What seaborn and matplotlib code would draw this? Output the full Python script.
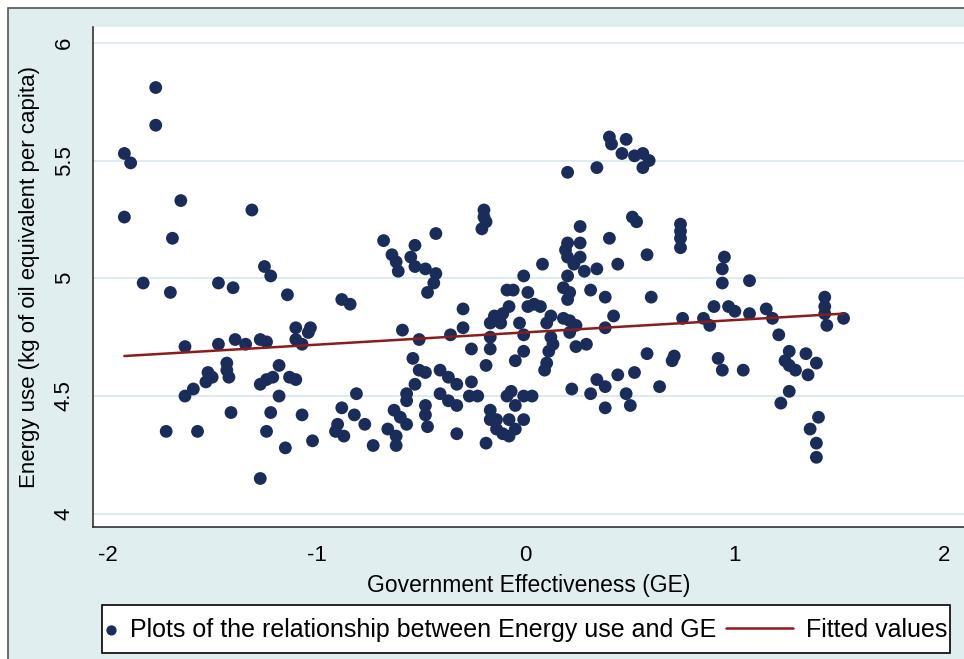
import numpy as np
import pandas as pd
import matplotlib.pyplot as plt
import seaborn as sns
from matplotlib.patches import Rectangle

# --- datos ---
ge = [-1.77, -1.77, -1.92, -1.89, -1.65, -1.92, -1.31, -1.69, -1.25, -1.22,
      -1.83, -1.47, -1.40, -1.70, -1.14, -1.10, -1.04, -1.10, -1.07, -1.63,
      -1.47, -1.39, -1.34, -1.27, -1.24, -1.43, -1.43, -1.42, -1.52, -1.50,
      -1.53, -1.59, -1.63, -1.18, -1.21, -1.24, -1.27, -1.13, -1.10, -1.18,
      -1.41, -1.22, -1.07, -1.72, -1.57, -1.24, -1.02, -1.15, -1.27,
      -0.20, -0.20, -0.19, -0.21, -0.68, -0.43, -0.53, -0.64, -0.62, -0.61,
      -0.55, -0.53, -0.48, -0.43, -0.44, -0.47, -0.88, -0.84, -0.30, -0.01,
      -0.09, -0.06, 0.01, -0.08, 0.01, -0.15, -0.11, -0.03, -0.17, -0.30,
      -0.59, -1.03, -0.51, -0.36, -0.12, -0.17, -0.17, -0.26, -0.01, -0.05,
      -0.19, -0.54, -0.51, -0.48, -0.41, -0.37, -0.33, -0.41, -0.37, -0.33,
      -0.26, -0.27, -0.23, -0.53, -0.57, -0.57, -0.63, -0.60, -0.57, -0.48,
      -0.48, -0.47, -0.81, -0.88, -0.82, -0.77, -0.90, -0.91, -0.87, -0.66,
      -0.62, -0.62, -0.73, -0.33, -0.19, -0.17, -0.14, -0.09, -0.07, -0.05,
      -0.08, -0.05, -0.11, -0.08, -0.14, -0.17, -0.01, -0.01,
      0.40, 0.41, 0.48, 0.46, 0.52, 0.56, 0.59, 0.56, 0.20, 0.34,
      0.51, 0.53, 0.74, 0.74, 0.74, 0.74, 0.26, 0.40, 0.20, 0.26,
      0.19, 0.20, 0.26, 0.23, 0.28, 0.34, 0.44, 0.58, 0.08, 0.20,
      0.18, 0.21, 0.04, 0.31, 0.38, 0.60, 0.95, 0.94, 0.94, 0.90,
      0.97, 0.07, 0.20, 0.12, 0.10, 0.18, 0.21, 0.24, 0.21, 0.42,
      0.38, -0.01, 0.12, 0.13, 0.11, 0.10, 0.09, 0.24, 0.29, 0.58,
      0.71, 0.70, 0.92, 0.94, 0.44, 0.52, 0.34, 0.38, 0.31, 0.22,
      0.48, 0.50, 0.38, 0.64, 0.03, 0.75, 0.85, 0.88, 1.00, 1.07,
      1.07, 1.15, 1.18, 1.43, 1.43, 1.43, 1.44, 1.52, 1.21, 1.26,
      1.24, 1.26, 1.29, 1.34, 1.39, 1.35, 1.04, 1.26, 1.22, 1.40,
      1.36, 1.39, 1.39]

energy = [5.81, 5.65, 5.53, 5.49, 5.33, 5.26, 5.29, 5.17, 5.05, 5.01,
          4.98, 4.98, 4.96, 4.94, 4.93, 4.79, 4.77, 4.74, 4.72, 4.71,
          4.72, 4.74, 4.72, 4.74, 4.73, 4.64, 4.61, 4.58, 4.60, 4.58,
          4.56, 4.53, 4.50, 4.63, 4.58, 4.57, 4.55, 4.58, 4.57, 4.50,
          4.43, 4.43, 4.42, 4.35, 4.35, 4.35, 4.31, 4.28, 4.15,
          5.29, 5.26, 5.24, 5.21, 5.16, 5.19, 5.14, 5.10, 5.07, 5.03,
          5.09, 5.05, 5.04, 5.02, 4.98, 4.94, 4.91, 4.89, 4.87, 5.01,
          4.95, 4.95, 4.94, 4.88, 4.88, 4.84, 4.85, 4.81, 4.81, 4.79,
          4.78, 4.79, 4.74, 4.76, 4.81, 4.75, 4.70, 4.70, 4.69, 4.65,
          4.63, 4.66, 4.61, 4.60, 4.61, 4.58, 4.55, 4.51, 4.48, 4.46,
          4.56, 4.50, 4.50, 4.55, 4.51, 4.48, 4.44, 4.41, 4.38, 4.46,
          4.42, 4.37, 4.51, 4.45, 4.42, 4.38, 4.38, 4.35, 4.33, 4.36,
          4.33, 4.29, 4.29, 4.34, 4.30, 4.44, 4.40, 4.50, 4.52, 4.46,
          4.40, 4.36, 4.34, 4.33, 4.36, 4.40, 4.50, 4.40,
          5.60, 5.57, 5.59, 5.53, 5.52, 5.53, 5.50, 5.47, 5.45, 5.47,
          5.26, 5.24, 5.23, 5.20, 5.17, 5.13, 5.22, 5.17, 5.15, 5.15,
          5.12, 5.09, 5.09, 5.06, 5.03, 5.04, 5.06, 5.10, 5.06, 5.01,
          4.96, 4.94, 4.89, 4.95, 4.92, 4.92, 5.09, 5.04, 4.98, 4.88,
          4.88, 4.88, 4.91, 4.84, 4.81, 4.83, 4.82, 4.80, 4.77, 4.84,
          4.79, 4.76, 4.75, 4.72, 4.69, 4.64, 4.61, 4.71, 4.72, 4.68,
          4.67, 4.65, 4.66, 4.61, 4.59, 4.60, 4.57, 4.54, 4.51, 4.53,
          4.51, 4.46, 4.45, 4.54, 4.50, 4.83, 4.83, 4.80, 4.86, 4.99,
          4.85, 4.87, 4.83, 4.92, 4.88, 4.85, 4.80, 4.83, 4.76, 4.69,
          4.65, 4.63, 4.61, 4.68, 4.64, 4.59, 4.61, 4.52, 4.47, 4.41,
          4.36, 4.30, 4.24]

# recta ajustada (extremos)
fit_x = [-1.92, 1.52]
fit_y = [4.67, 4.85]

df = pd.DataFrame({'GE': ge, 'Energy': energy})
fit_df = pd.DataFrame({'GE': fit_x, 'Fitted': fit_y})

# --- estilo ---
sns.set_style('white')
plt.rcParams['font.family'] = ['Liberation Sans', 'DejaVu Sans']
plt.rcParams['text.color'] = 'black'
plt.rcParams['axes.labelcolor'] = 'black'

bg = '#e1eef0'
navy = '#1a2d5a'
red = '#8c1c1c'

fig = plt.figure(figsize=(9.64, 6.59), dpi=100)
fig.patch.set_facecolor('white')
# marco exterior (estilo Stata)
fig.patches.append(Rectangle((8 / 964, -10 / 659), 980 / 964, 661 / 659,
                             transform=fig.transFigure, facecolor=bg,
                             edgecolor='#555555', linewidth=1.2, zorder=-10))

ax = fig.add_axes([93 / 964, 1 - 527 / 659, 871 / 964, 500 / 659])
ax.set_facecolor('white')

sns.scatterplot(data=df, x='GE', y='Energy', ax=ax, color=navy, s=85,
                edgecolor='none', zorder=3,
                label='Plots of the relationship between Energy use and GE')
sns.lineplot(data=fit_df, x='GE', y='Fitted', ax=ax, color=red, linewidth=1.8,
             zorder=4, label='Fitted values')

ax.set_xlim(-2.07, 2.096)
ax.set_ylim(3.944, 6.067)
ax.set_xticks([-2, -1, 0, 1, 2])
ax.set_xticklabels(['-2', '-1', '0', '1', '2'])
ax.set_yticks([4, 4.5, 5, 5.5, 6])
ax.set_yticklabels(['4', '4.5', '5', '5.5', '6'], rotation=90, va='center')

ax.yaxis.grid(True, color='#d8e9ed', linewidth=1.3)
ax.xaxis.grid(False)
ax.set_axisbelow(True)

for side in ['top', 'right']:
    ax.spines[side].set_visible(False)
for side in ['left', 'bottom']:
    ax.spines[side].set_color('#222222')
    ax.spines[side].set_linewidth(1.1)

ax.tick_params(axis='both', direction='out', length=7, width=1.0,
               color='#222222', labelsize=16, labelcolor='black', pad=6)

ax.set_xlabel('Government Effectiveness (GE)', fontsize=16.5, labelpad=6)
ax.set_ylabel('Energy use (kg of oil equivalent per capita)', fontsize=16,
              labelpad=10)

# leyenda abajo: caja + dos entradas
handles, labels = ax.get_legend_handles_labels()
ax.get_legend().remove()
fig.patches.append(Rectangle((102 / 964, 6 / 659), 848 / 964, 48 / 659,
                             transform=fig.transFigure, facecolor='white',
                             edgecolor='black', linewidth=1.2, zorder=1))
leg1 = fig.legend(handles[:1], labels[:1], loc='center left',
                  bbox_to_anchor=(104 / 964, 29 / 659), fontsize=18,
                  frameon=False, handlelength=0.6, handletextpad=0.45,
                  borderaxespad=0, borderpad=0, markerscale=0.8)
leg2 = fig.legend(handles[1:], labels[1:], loc='center right',
                  bbox_to_anchor=(947 / 964, 29 / 659), fontsize=18,
                  frameon=False, handlelength=2.7, handletextpad=0.5,
                  borderaxespad=0, borderpad=0)

fig.savefig('out.png', dpi=100, facecolor=fig.get_facecolor())
